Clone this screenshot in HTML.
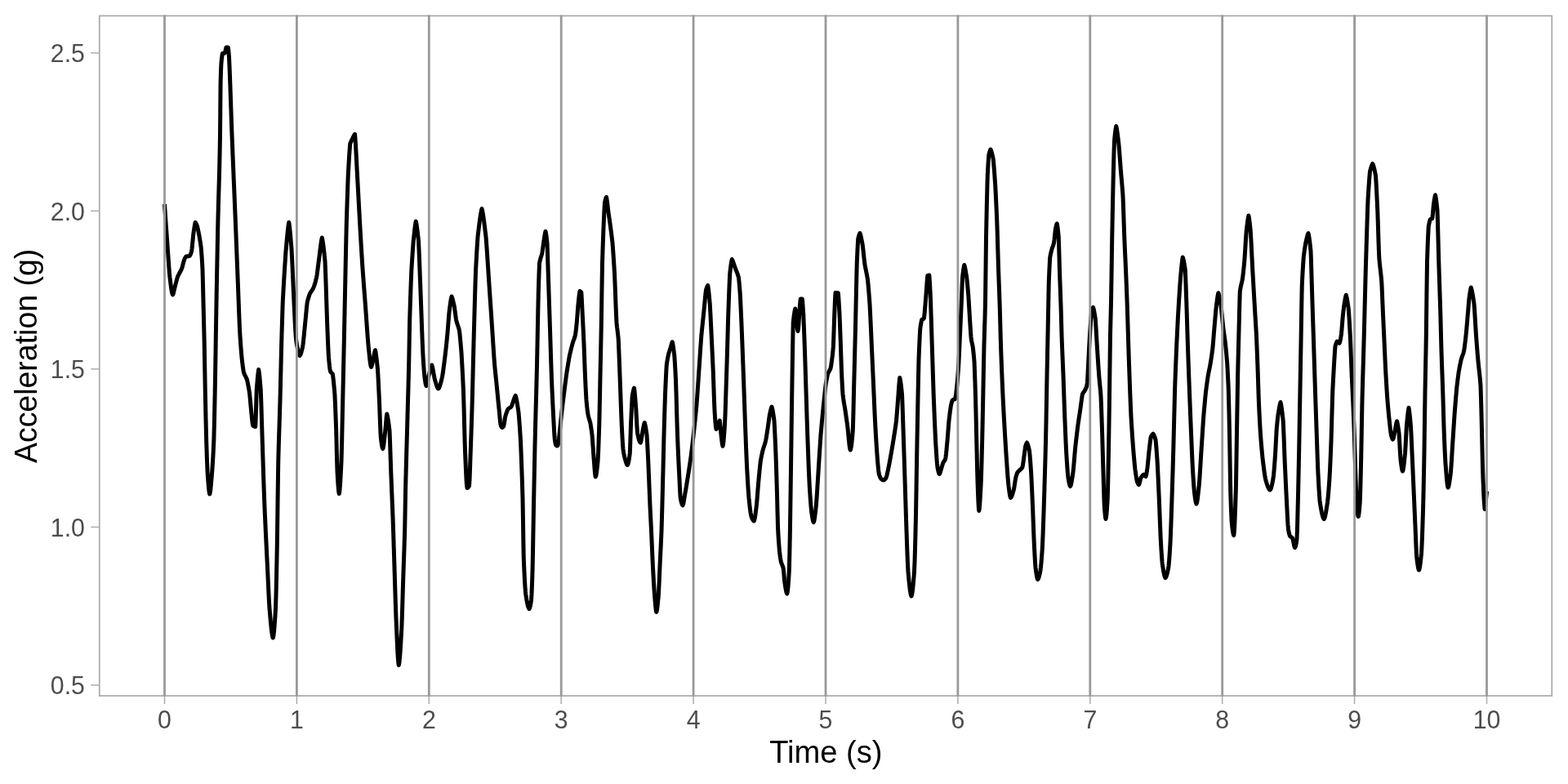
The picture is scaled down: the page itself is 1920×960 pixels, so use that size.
<!DOCTYPE html>
<html lang="en">
<head>
<meta charset="utf-8">
<title>Acceleration over time</title>
<style>
html,body{margin:0;padding:0;background:#fff;}
body{width:1920px;height:960px;overflow:hidden;font-family:"Liberation Sans",Arial,Helvetica,sans-serif;}
svg{display:block;}
.tick{font-size:29.33px;fill:#4d4d4d;}
.title{font-size:36.67px;fill:#000;}
</style>
</head>
<body>
<svg width="1920" height="960" viewBox="0 0 1920 960" font-family="'Liberation Sans',Arial,Helvetica,sans-serif">
<rect x="0" y="0" width="1920" height="960" fill="#ffffff"/>
<path d="M201.50,250.00 L202.00,257.33 L202.50,264.60 L203.00,271.80 L203.50,278.94 L204.00,286.02 L204.50,293.04 L205.00,300.00 L205.50,307.09 L206.00,314.44 L206.50,321.73 L207.00,328.63 L207.50,334.83 L208.00,340.00 L208.50,344.05 L209.00,348.06 L209.50,351.85 L210.00,355.23 L210.50,358.01 L211.00,360.00 L211.50,361.00 L212.00,360.18 L212.50,358.51 L213.00,356.35 L213.50,354.06 L214.00,352.00 L214.50,350.12 L215.00,348.19 L215.50,346.25 L216.00,344.32 L216.50,342.45 L217.00,340.66 L217.50,339.00 L218.00,337.88 L218.50,336.84 L219.00,335.85 L219.50,334.90 L220.00,333.97 L220.50,333.08 L221.00,332.18 L221.50,331.22 L222.00,330.17 L222.50,329.00 L223.00,327.48 L223.50,325.70 L224.00,323.81 L224.50,321.96 L225.00,320.16 L225.50,318.48 L226.00,317.00 L226.50,316.12 L227.00,315.28 L227.50,314.55 L228.00,314.00 L228.50,313.92 L229.00,313.85 L229.50,313.80 L230.00,313.75 L230.50,313.71 L231.00,313.67 L231.50,313.60 L232.00,313.50 L232.50,313.02 L233.00,312.17 L233.50,311.01 L234.00,309.60 L234.50,308.00 L235.00,304.79 L235.50,300.09 L236.00,294.70 L236.50,289.48 L237.00,285.00 L237.50,281.67 L238.00,278.32 L238.50,275.30 L239.00,272.97 L239.20,272.30 L239.50,272.67 L240.00,273.51 L240.50,274.58 L241.00,275.77 L241.50,277.00 L242.00,279.06 L242.50,281.36 L243.00,283.83 L243.50,286.40 L244.00,289.00 L244.50,291.99 L245.00,295.02 L245.50,298.22 L246.00,301.71 L246.30,304.00 L246.50,306.51 L247.00,313.33 L247.50,321.08 L248.00,330.00 L248.50,348.89 L249.00,370.00 L249.50,390.41 L250.00,411.26 L250.20,420.00 L250.50,435.98 L251.00,464.12 L251.30,480.00 L251.50,489.45 L252.00,512.27 L252.50,532.78 L252.70,540.00 L253.00,549.51 L253.50,564.25 L254.00,576.29 L254.20,580.00 L254.50,584.22 L255.00,590.92 L255.50,596.81 L256.00,601.44 L256.50,604.34 L256.75,605.00 L257.00,604.38 L257.50,601.62 L258.00,597.29 L258.50,591.90 L259.00,585.96 L259.50,580.00 L260.00,573.29 L260.50,565.78 L261.00,557.12 L261.50,546.96 L261.80,540.00 L262.00,533.73 L262.50,513.63 L263.00,489.82 L263.20,480.00 L263.50,463.47 L264.00,432.69 L264.50,400.53 L265.00,370.00 L265.50,342.79 L266.00,316.05 L266.50,290.09 L266.80,275.00 L267.00,266.54 L267.50,247.47 L268.00,230.57 L268.50,212.97 L269.00,192.00 L269.50,165.00 L270.00,108.94 L270.10,100.00 L270.50,87.42 L270.90,78.00 L271.00,76.92 L271.50,71.87 L272.00,67.77 L272.40,65.50 L272.50,65.47 L273.00,65.37 L273.50,65.29 L274.00,65.23 L274.50,65.18 L275.00,65.09 L275.30,65.00 L275.50,64.60 L276.00,62.30 L276.50,59.74 L277.00,58.00 L277.50,58.00 L278.00,58.00 L278.50,58.00 L279.00,58.00 L279.30,58.00 L279.50,59.26 L280.00,64.09 L280.50,70.00 L281.00,81.12 L281.50,93.83 L282.00,107.65 L282.50,122.13 L283.00,136.82 L283.50,151.26 L284.00,165.00 L284.50,177.65 L285.00,190.05 L285.50,202.27 L286.00,214.36 L286.50,226.39 L287.00,238.41 L287.50,250.51 L288.00,262.70 L288.50,275.00 L289.00,287.66 L289.50,300.39 L290.00,313.15 L290.50,325.93 L291.00,338.67 L291.25,345.00 L291.50,351.44 L292.00,364.88 L292.50,378.41 L293.00,391.25 L293.50,402.61 L293.75,407.50 L294.00,411.53 L294.50,419.05 L295.00,425.86 L295.50,432.00 L296.00,437.49 L296.25,440.00 L296.50,442.19 L297.00,446.41 L297.50,450.24 L298.00,453.50 L298.50,456.00 L299.00,457.52 L299.50,458.74 L300.00,459.75 L300.50,460.66 L301.00,461.57 L301.50,462.60 L302.00,463.72 L302.50,465.00 L303.00,467.24 L303.50,469.65 L304.00,472.25 L304.50,475.01 L305.00,477.93 L305.50,481.00 L306.00,485.84 L306.50,491.22 L307.00,496.74 L307.50,502.00 L308.00,507.11 L308.50,512.46 L309.00,517.18 L309.50,520.36 L309.70,521.00 L310.00,521.26 L310.50,521.65 L311.00,521.96 L311.50,522.20 L312.00,522.38 L312.50,522.48 L312.70,522.50 L313.00,518.07 L313.50,501.63 L314.00,484.07 L314.25,477.50 L314.50,474.28 L315.00,468.05 L315.50,462.33 L316.00,457.43 L316.50,453.64 L316.70,452.50 L317.00,454.21 L317.50,458.03 L318.00,462.83 L318.50,468.37 L319.00,474.39 L319.25,477.50 L319.50,483.79 L320.00,498.65 L320.50,515.25 L321.00,532.03 L321.25,540.00 L321.50,547.70 L322.00,563.34 L322.50,578.94 L323.00,594.08 L323.50,608.34 L323.75,615.00 L324.00,621.06 L324.50,632.66 L325.00,643.67 L325.50,654.25 L326.00,664.53 L326.50,674.65 L327.00,684.76 L327.50,695.00 L328.00,705.68 L328.50,716.75 L329.00,727.47 L329.50,737.13 L330.00,745.00 L330.50,750.89 L331.00,756.69 L331.50,762.23 L332.00,767.37 L332.50,771.93 L333.00,775.75 L333.50,778.67 L334.00,780.52 L334.25,781.00 L334.50,780.35 L335.00,777.73 L335.50,773.53 L336.00,767.95 L336.50,761.19 L337.00,753.47 L337.50,745.00 L338.00,729.73 L338.50,708.13 L339.00,683.00 L339.25,670.00 L339.50,654.23 L340.00,616.82 L340.50,580.73 L340.75,565.00 L341.00,555.44 L341.50,538.15 L342.00,522.31 L342.50,506.67 L343.00,490.00 L343.50,469.84 L344.00,448.56 L344.50,427.88 L344.70,420.00 L345.00,409.73 L345.50,392.91 L346.00,377.18 L346.25,370.00 L346.50,365.11 L347.00,355.70 L347.50,346.76 L348.00,338.24 L348.50,330.10 L349.00,322.30 L349.50,314.78 L350.00,307.50 L350.50,302.04 L351.00,296.49 L351.50,291.02 L352.00,285.82 L352.50,281.06 L353.00,276.93 L353.50,273.60 L353.75,272.30 L354.00,273.71 L354.50,277.36 L355.00,281.94 L355.50,287.22 L356.00,292.97 L356.50,298.97 L357.00,305.00 L357.50,314.54 L358.00,325.15 L358.50,336.41 L359.00,347.92 L359.50,359.31 L360.00,370.00 L360.50,380.14 L361.00,390.59 L361.50,400.48 L362.00,408.91 L362.50,415.00 L363.00,418.53 L363.50,421.85 L364.00,424.91 L364.50,427.68 L365.00,430.10 L365.50,432.14 L366.00,433.75 L366.50,434.88 L367.00,435.50 L367.50,435.02 L368.00,434.07 L368.50,432.74 L369.00,431.08 L369.50,429.20 L370.00,427.14 L370.50,425.00 L371.00,421.83 L371.50,417.74 L372.00,413.00 L372.50,407.87 L373.00,402.60 L373.50,397.45 L373.75,395.00 L374.00,392.48 L374.50,387.18 L375.00,381.79 L375.50,376.63 L376.00,372.01 L376.25,370.00 L376.50,368.97 L377.00,367.06 L377.50,365.30 L378.00,363.68 L378.50,362.15 L379.00,360.71 L379.25,360.00 L379.50,359.52 L380.00,358.62 L380.50,357.79 L381.00,357.01 L381.50,356.24 L382.00,355.52 L382.50,354.77 L383.00,353.95 L383.50,353.02 L383.75,352.50 L384.00,351.89 L384.50,350.58 L385.00,349.16 L385.50,347.61 L386.00,345.94 L386.50,344.12 L387.00,342.14 L387.50,340.00 L388.00,337.12 L388.50,333.66 L389.00,329.82 L389.50,325.80 L390.00,321.79 L390.50,318.00 L391.00,314.22 L391.50,310.17 L392.00,306.04 L392.50,301.99 L393.00,298.22 L393.50,294.91 L394.00,292.23 L394.30,291.00 L394.50,291.84 L395.00,294.43 L395.50,297.63 L396.00,301.37 L396.50,305.55 L397.00,310.11 L397.50,314.96 L398.00,320.00 L398.50,331.73 L399.00,345.71 L399.50,360.98 L400.00,376.60 L400.50,391.80 L400.80,400.00 L401.00,404.98 L401.50,417.64 L402.00,429.22 L402.50,438.00 L403.00,443.50 L403.50,448.31 L404.00,452.14 L404.50,454.67 L404.60,455.00 L405.00,455.63 L405.50,456.16 L406.00,456.55 L406.50,457.01 L407.00,457.57 L407.30,458.00 L407.50,459.24 L408.00,462.99 L408.50,467.52 L409.00,472.67 L409.50,478.29 L409.90,483.00 L410.00,484.99 L410.50,496.15 L411.00,508.80 L411.50,522.27 L411.60,525.00 L412.00,539.99 L412.50,561.28 L413.00,577.50 L413.50,586.17 L414.00,593.84 L414.50,599.88 L415.00,603.66 L415.25,604.50 L415.50,603.58 L416.00,599.62 L416.50,593.28 L417.00,585.06 L417.50,575.46 L418.00,565.00 L418.50,547.34 L419.00,523.83 L419.50,500.00 L420.00,477.51 L420.50,454.72 L421.00,431.64 L421.25,420.00 L421.50,407.98 L422.00,383.22 L422.50,358.09 L423.00,333.11 L423.50,308.85 L424.00,285.85 L424.25,275.00 L424.50,266.76 L425.00,250.74 L425.50,235.58 L426.00,221.53 L426.25,215.00 L426.50,210.44 L427.00,201.43 L427.50,192.86 L428.00,185.14 L428.50,178.65 L428.75,176.00 L429.00,175.28 L429.50,174.02 L430.00,172.93 L430.50,171.96 L431.00,171.00 L431.50,170.00 L432.00,168.96 L432.50,167.86 L433.00,166.77 L433.50,165.76 L434.00,164.92 L434.50,164.30 L435.00,169.79 L435.50,177.36 L436.00,186.34 L436.50,196.06 L437.00,205.84 L437.50,215.00 L438.00,224.11 L438.50,233.37 L439.00,242.69 L439.50,252.10 L440.00,261.42 L440.50,270.55 L440.75,275.00 L441.00,279.35 L441.50,288.02 L442.00,296.60 L442.50,305.03 L443.00,313.24 L443.50,321.17 L443.75,325.00 L444.00,328.62 L444.50,335.63 L445.00,342.40 L445.50,348.99 L446.00,355.47 L446.50,361.92 L447.00,368.41 L447.50,375.00 L448.00,381.85 L448.50,388.96 L449.00,396.15 L449.50,403.26 L450.00,410.11 L450.50,416.54 L451.00,422.36 L451.25,425.00 L451.50,427.37 L452.00,432.27 L452.50,437.14 L453.00,441.62 L453.50,445.40 L454.00,448.14 L454.50,449.50 L455.00,448.66 L455.50,446.93 L456.00,444.67 L456.50,442.25 L457.00,440.00 L457.50,437.63 L458.00,435.03 L458.50,432.49 L459.00,430.30 L459.50,428.75 L460.00,431.20 L460.50,434.49 L461.00,438.44 L461.50,442.88 L462.00,447.62 L462.50,452.50 L463.00,461.13 L463.50,470.96 L464.00,481.43 L464.50,492.00 L465.00,505.00 L465.50,519.25 L466.00,531.10 L466.25,535.00 L466.50,537.24 L467.00,541.36 L467.50,544.84 L468.00,547.49 L468.50,549.12 L468.75,549.50 L469.00,549.00 L469.50,546.79 L470.00,543.32 L470.50,539.03 L471.00,534.35 L471.50,529.69 L471.75,527.50 L472.00,524.96 L472.50,519.15 L473.00,513.33 L473.50,508.60 L473.75,507.00 L474.00,507.86 L474.50,510.02 L475.00,512.69 L475.50,515.83 L476.00,519.39 L476.50,523.29 L477.00,527.50 L477.50,539.64 L478.00,554.68 L478.50,570.25 L478.75,577.50 L479.00,584.00 L479.50,596.40 L480.00,608.55 L480.50,620.83 L481.00,633.46 L481.25,640.00 L481.50,647.55 L482.00,663.16 L482.50,679.12 L483.00,695.00 L483.50,711.31 L484.00,728.03 L484.50,743.86 L485.00,757.50 L485.50,768.90 L486.00,780.43 L486.50,791.38 L487.00,801.00 L487.50,808.58 L488.00,813.37 L488.25,814.50 L488.50,813.74 L489.00,810.62 L489.50,805.67 L490.00,799.24 L490.50,791.66 L491.00,783.29 L491.50,774.47 L491.75,770.00 L492.00,764.21 L492.50,749.66 L493.00,732.80 L493.50,715.60 L493.75,707.50 L494.00,699.95 L494.50,685.72 L495.00,671.20 L495.50,654.62 L495.75,645.00 L496.00,631.58 L496.50,602.00 L497.00,581.97 L497.50,563.35 L498.00,545.47 L498.50,527.66 L498.90,513.00 L499.00,509.24 L499.50,491.03 L500.00,472.77 L500.50,453.07 L500.80,440.00 L501.00,429.14 L501.50,400.07 L501.60,395.00 L502.00,381.61 L502.50,366.13 L503.00,351.90 L503.50,338.73 L503.75,332.50 L504.00,328.20 L504.50,319.99 L505.00,312.28 L505.50,305.04 L506.00,298.24 L506.25,295.00 L506.50,292.66 L507.00,287.90 L507.50,283.25 L508.00,278.91 L508.50,275.13 L509.00,272.14 L509.25,271.00 L509.50,272.02 L510.00,274.61 L510.50,277.85 L511.00,281.61 L511.50,285.80 L512.00,290.30 L512.50,295.00 L513.00,305.35 L513.50,317.54 L514.00,330.80 L514.50,344.38 L515.00,357.50 L515.50,370.93 L516.00,385.13 L516.50,399.41 L517.00,413.10 L517.50,425.52 L518.00,436.00 L518.50,444.05 L519.00,451.37 L519.50,457.62 L520.00,462.50 L520.50,465.94 L521.00,469.04 L521.50,471.38 L522.00,472.50 L522.50,471.62 L523.00,469.84 L523.50,467.46 L524.00,464.81 L524.50,462.22 L525.00,460.00 L525.50,458.10 L526.00,456.11 L526.50,454.09 L527.00,452.13 L527.50,450.32 L528.00,448.75 L528.50,447.49 L528.75,447.00 L529.00,447.69 L529.50,449.53 L530.00,451.86 L530.50,454.51 L531.00,457.32 L531.50,460.11 L532.00,462.82 L532.50,465.00 L533.00,466.67 L533.50,468.38 L534.00,470.06 L534.50,471.65 L535.00,473.09 L535.50,474.31 L536.00,475.25 L536.50,475.85 L536.75,476.00 L537.00,475.83 L537.50,475.19 L538.00,474.18 L538.50,472.86 L539.00,471.29 L539.50,469.51 L540.00,467.59 L540.50,465.58 L541.00,463.52 L541.25,462.50 L541.50,461.27 L542.00,458.45 L542.50,455.25 L543.00,451.72 L543.50,447.95 L544.00,444.03 L544.50,440.02 L545.00,436.00 L545.50,431.73 L546.00,427.27 L546.50,422.63 L547.00,417.78 L547.50,412.74 L548.00,407.50 L548.50,401.33 L549.00,394.73 L549.50,388.30 L550.00,382.50 L550.50,378.64 L551.00,374.78 L551.50,371.11 L552.00,367.81 L552.50,365.04 L553.00,363.00 L553.50,364.15 L554.00,365.68 L554.50,367.51 L555.00,369.55 L555.50,371.72 L556.00,373.92 L556.25,375.00 L556.50,376.56 L557.00,380.05 L557.50,383.82 L558.00,387.71 L558.50,391.12 L558.75,392.50 L559.00,393.55 L559.50,395.33 L560.00,396.82 L560.50,398.23 L561.00,399.71 L561.50,401.27 L562.00,403.01 L562.50,405.00 L563.00,409.40 L563.50,414.44 L564.00,419.99 L564.50,425.90 L565.00,432.00 L565.50,440.49 L566.00,449.49 L566.50,459.04 L567.00,469.19 L567.50,480.00 L568.00,497.16 L568.50,516.47 L569.00,536.35 L569.50,552.50 L570.00,564.45 L570.50,576.12 L571.00,586.31 L571.50,593.83 L572.00,597.50 L572.50,597.34 L573.00,597.02 L573.50,596.52 L574.00,595.85 L574.50,595.00 L575.00,587.90 L575.50,574.72 L576.00,559.55 L576.25,552.50 L576.50,545.60 L577.00,531.31 L577.50,516.18 L578.00,500.00 L578.50,481.19 L579.00,460.69 L579.50,439.91 L580.00,420.00 L580.50,401.63 L581.00,383.11 L581.50,365.03 L582.00,347.96 L582.50,332.50 L583.00,322.79 L583.50,313.64 L584.00,305.09 L584.50,297.19 L585.00,290.00 L585.50,285.71 L586.00,281.46 L586.50,277.31 L587.00,273.32 L587.50,269.53 L588.00,266.00 L588.50,262.78 L589.00,259.92 L589.50,257.48 L590.00,255.50 L590.50,257.49 L591.00,259.98 L591.50,262.90 L592.00,266.18 L592.50,269.77 L593.00,273.59 L593.50,277.59 L594.00,281.70 L594.50,285.86 L595.00,290.00 L595.50,296.37 L596.00,303.29 L596.50,310.62 L597.00,318.22 L597.50,325.96 L598.00,333.69 L598.50,341.29 L598.75,345.00 L599.00,348.67 L599.50,355.99 L600.00,363.31 L600.50,370.63 L601.00,377.95 L601.50,385.29 L602.00,392.63 L602.50,400.00 L603.00,407.63 L603.50,415.52 L604.00,423.43 L604.50,431.13 L605.00,438.40 L605.50,445.00 L606.00,450.52 L606.50,455.57 L607.00,460.37 L607.50,465.11 L608.00,470.00 L608.50,475.07 L609.00,480.17 L609.50,485.28 L610.00,490.39 L610.50,495.47 L611.00,500.50 L611.25,503.00 L611.50,505.63 L612.00,511.34 L612.50,516.56 L613.00,520.00 L613.50,521.43 L614.00,522.57 L614.50,523.31 L614.80,523.50 L615.00,523.46 L615.50,523.18 L616.00,522.73 L616.50,522.13 L616.60,522.00 L617.00,520.61 L617.50,517.72 L618.00,514.30 L618.50,511.27 L618.75,510.00 L619.00,509.19 L619.50,507.59 L620.00,506.07 L620.50,504.62 L621.00,503.29 L621.50,502.07 L622.00,501.00 L622.50,500.55 L623.00,500.16 L623.50,499.81 L624.00,499.48 L624.50,499.18 L625.00,498.86 L625.50,498.48 L626.00,498.00 L626.50,497.12 L627.00,495.89 L627.50,494.41 L628.00,492.80 L628.50,491.26 L629.00,489.74 L629.50,488.28 L630.00,486.94 L630.50,485.79 L631.00,484.86 L631.25,484.50 L631.50,485.25 L632.00,487.13 L632.50,489.45 L633.00,492.13 L633.50,495.11 L634.00,498.29 L634.50,501.61 L635.00,505.00 L635.50,510.87 L636.00,517.38 L636.50,524.45 L637.00,532.02 L637.50,540.00 L638.00,552.06 L638.50,564.97 L639.00,578.85 L639.50,593.82 L640.00,610.00 L640.50,639.08 L641.00,671.28 L641.25,682.50 L641.50,689.13 L642.00,700.93 L642.50,710.83 L643.00,718.86 L643.50,725.07 L643.75,727.50 L644.00,729.18 L644.50,732.37 L645.00,735.32 L645.50,737.99 L646.00,740.32 L646.50,742.28 L647.00,743.83 L647.50,744.92 L648.00,745.50 L648.50,744.77 L649.00,743.27 L649.50,741.08 L650.00,738.30 L650.50,735.00 L651.00,727.18 L651.50,714.88 L652.00,700.00 L652.50,677.11 L653.00,648.31 L653.50,620.00 L654.00,594.51 L654.50,569.29 L655.00,545.00 L655.50,524.77 L656.00,505.46 L656.50,486.65 L657.00,467.59 L657.50,447.00 L658.00,422.24 L658.50,396.23 L659.00,371.34 L659.25,360.00 L659.50,351.50 L660.00,335.08 L660.50,322.50 L661.00,319.93 L661.50,317.86 L662.00,316.11 L662.50,314.52 L663.00,312.89 L663.50,311.12 L663.75,310.00 L664.00,308.57 L664.50,305.23 L665.00,301.50 L665.50,297.72 L666.00,294.17 L666.25,292.50 L666.50,291.03 L667.00,287.97 L667.50,285.18 L668.00,283.25 L668.50,285.58 L669.00,288.86 L669.50,292.91 L670.00,297.50 L670.50,310.88 L671.00,327.13 L671.25,335.00 L671.50,342.54 L672.00,357.62 L672.50,372.72 L673.00,387.86 L673.40,400.00 L673.50,403.09 L674.00,419.08 L674.50,435.32 L675.00,450.92 L675.50,465.00 L676.00,476.75 L676.50,487.60 L677.00,497.77 L677.50,507.50 L678.00,517.16 L678.50,526.65 L679.00,534.58 L679.30,538.00 L679.50,539.47 L680.00,542.61 L680.50,544.50 L681.00,545.17 L681.50,545.66 L682.00,545.95 L682.20,546.00 L682.50,545.80 L683.00,545.04 L683.50,543.85 L683.80,543.00 L684.00,541.91 L684.50,537.44 L685.00,532.01 L685.20,530.00 L685.50,527.10 L686.00,522.15 L686.50,517.20 L687.00,512.29 L687.50,507.50 L688.00,503.20 L688.50,498.97 L689.00,494.81 L689.50,490.68 L690.00,486.59 L690.50,482.50 L691.00,478.57 L691.50,474.63 L692.00,470.72 L692.50,466.85 L693.00,463.04 L693.50,459.32 L693.75,457.50 L694.00,455.91 L694.50,452.75 L695.00,449.62 L695.50,446.55 L696.00,443.54 L696.50,440.60 L697.00,437.75 L697.50,435.00 L698.00,432.83 L698.50,430.73 L699.00,428.69 L699.50,426.69 L700.00,424.74 L700.50,422.82 L701.00,420.94 L701.25,420.00 L701.50,419.20 L702.00,417.73 L702.50,416.42 L703.00,415.11 L703.50,413.69 L704.00,412.03 L704.50,410.00 L705.00,406.69 L705.50,402.38 L706.00,397.51 L706.25,395.00 L706.50,392.11 L707.00,385.43 L707.50,378.68 L708.00,372.50 L708.50,367.86 L709.00,363.26 L709.50,359.29 L710.00,356.50 L710.50,356.76 L711.00,357.14 L711.50,357.64 L711.80,358.00 L712.00,360.50 L712.50,369.74 L713.00,380.00 L713.50,389.93 L714.00,399.95 L714.50,410.25 L715.00,421.00 L715.50,434.52 L716.00,448.62 L716.25,455.00 L716.50,460.71 L717.00,471.88 L717.50,481.96 L718.00,490.00 L718.50,495.49 L719.00,500.21 L719.50,504.21 L720.00,507.50 L720.50,509.79 L721.00,511.64 L721.50,513.27 L722.00,514.92 L722.50,516.72 L723.00,518.75 L723.50,521.81 L724.00,525.10 L724.50,528.65 L725.00,532.50 L725.50,538.81 L726.00,545.90 L726.50,553.18 L727.00,560.00 L727.50,566.42 L728.00,573.14 L728.50,579.02 L729.00,582.91 L729.25,583.75 L729.50,583.32 L730.00,581.50 L730.50,578.55 L731.00,574.69 L731.50,570.10 L732.00,565.00 L732.50,556.00 L733.00,543.28 L733.50,528.11 L733.75,520.00 L734.00,509.90 L734.50,485.42 L735.00,460.00 L735.50,436.62 L736.00,412.83 L736.25,400.00 L736.50,384.82 L737.00,351.99 L737.50,322.50 L738.00,306.48 L738.50,292.20 L739.00,278.96 L739.25,272.50 L739.50,267.06 L740.00,256.38 L740.50,248.00 L741.00,245.77 L741.50,243.86 L742.00,242.34 L742.50,241.25 L743.00,243.81 L743.50,247.43 L744.00,251.65 L744.50,255.99 L745.00,260.00 L745.50,263.53 L746.00,266.99 L746.50,270.44 L747.00,273.93 L747.50,277.50 L748.00,281.32 L748.50,285.11 L749.00,289.00 L749.50,293.09 L750.00,297.50 L750.50,304.13 L751.00,311.26 L751.50,318.83 L752.00,326.76 L752.50,335.00 L753.00,346.55 L753.50,359.54 L754.00,373.22 L754.50,385.60 L755.00,395.00 L755.50,400.22 L756.00,404.16 L756.50,408.21 L757.00,412.85 L757.20,415.00 L757.50,421.29 L758.00,433.51 L758.50,446.82 L759.00,460.00 L759.50,473.54 L760.00,487.69 L760.50,501.57 L761.00,514.32 L761.25,520.00 L761.50,525.08 L762.00,535.02 L762.50,543.72 L763.00,550.00 L763.50,553.43 L764.00,556.25 L764.50,558.60 L765.00,560.64 L765.50,562.50 L766.00,564.17 L766.50,565.84 L767.00,567.35 L767.50,568.56 L768.00,569.33 L768.25,569.50 L768.50,569.22 L769.00,568.12 L769.50,566.31 L770.00,563.84 L770.50,560.74 L771.00,557.05 L771.25,555.00 L771.50,550.42 L772.00,535.24 L772.50,520.00 L773.00,508.91 L773.50,498.14 L774.00,488.80 L774.25,485.00 L774.50,483.54 L775.00,480.79 L775.50,478.38 L776.00,476.42 L776.50,475.00 L777.00,478.77 L777.50,484.09 L778.00,490.33 L778.50,496.84 L778.75,500.00 L779.00,504.13 L779.50,513.88 L780.00,523.56 L780.50,530.00 L781.00,532.61 L781.50,534.96 L782.00,537.01 L782.50,538.75 L783.00,540.14 L783.50,541.18 L784.00,541.83 L784.25,542.00 L784.50,541.60 L785.00,539.76 L785.50,536.95 L786.00,533.65 L786.50,530.34 L787.00,527.50 L787.50,525.03 L788.00,522.45 L788.50,520.06 L789.00,518.17 L789.25,517.50 L789.50,518.27 L790.00,520.26 L790.50,522.79 L791.00,525.74 L791.50,529.01 L792.00,532.50 L792.50,540.41 L793.00,549.88 L793.50,559.99 L793.75,565.00 L794.00,570.80 L794.50,582.97 L795.00,595.53 L795.50,608.19 L796.00,620.00 L796.50,630.24 L797.00,639.98 L797.50,650.00 L798.00,661.20 L798.50,672.86 L799.00,684.38 L799.50,695.00 L800.00,704.45 L800.50,713.43 L801.00,721.47 L801.25,725.00 L801.50,728.13 L802.00,734.56 L802.50,740.62 L803.00,745.60 L803.50,748.79 L803.75,749.50 L804.00,748.97 L804.50,746.60 L805.00,742.83 L805.50,738.08 L806.00,732.76 L806.25,730.00 L806.50,726.26 L807.00,716.48 L807.50,704.90 L808.00,693.05 L808.25,687.50 L808.50,682.31 L809.00,672.35 L809.50,661.98 L810.00,650.00 L810.50,633.67 L811.00,614.67 L811.50,595.00 L812.00,574.23 L812.50,552.97 L813.00,532.50 L813.50,514.98 L814.00,498.08 L814.50,482.50 L815.00,471.14 L815.50,460.39 L816.00,450.98 L816.25,447.00 L816.50,445.20 L817.00,441.96 L817.50,439.10 L818.00,436.49 L818.50,434.00 L819.00,432.25 L819.50,430.63 L820.00,429.09 L820.50,427.56 L821.00,426.00 L821.50,424.25 L822.00,422.38 L822.50,420.63 L823.00,419.24 L823.25,418.75 L823.50,419.68 L824.00,422.18 L824.50,425.36 L825.00,429.03 L825.50,432.98 L825.75,435.00 L826.00,438.52 L826.50,446.44 L827.00,455.36 L827.50,465.00 L828.00,480.62 L828.50,498.21 L829.00,516.37 L829.50,532.50 L830.00,544.98 L830.50,556.43 L831.00,567.14 L831.50,577.42 L831.75,582.50 L832.00,587.69 L832.50,598.50 L833.00,607.31 L833.25,610.00 L833.50,611.32 L834.00,613.68 L834.50,615.65 L835.00,617.18 L835.50,618.23 L836.00,618.75 L836.50,617.70 L837.00,615.56 L837.50,612.70 L838.00,609.53 L838.50,606.41 L838.75,605.00 L839.00,603.61 L839.50,600.77 L840.00,597.84 L840.50,594.86 L841.00,591.82 L841.50,588.74 L842.00,585.63 L842.50,582.50 L843.00,579.32 L843.50,576.14 L844.00,572.93 L844.50,569.66 L845.00,566.33 L845.50,562.89 L846.00,559.33 L846.25,557.50 L846.50,555.55 L847.00,551.53 L847.50,547.35 L848.00,543.05 L848.50,538.64 L849.00,534.15 L849.50,529.59 L850.00,525.00 L850.50,520.31 L851.00,515.60 L851.50,510.79 L852.00,505.80 L852.50,500.57 L853.00,495.00 L853.50,488.59 L854.00,481.65 L854.50,474.35 L855.00,466.86 L855.50,459.35 L856.00,452.00 L856.50,444.64 L857.00,437.16 L857.50,429.69 L858.00,422.37 L858.50,415.35 L858.75,412.00 L859.00,409.33 L859.50,404.19 L860.00,399.24 L860.50,394.42 L861.00,389.66 L861.50,384.87 L862.00,380.00 L862.50,374.77 L863.00,369.28 L863.50,363.91 L864.00,359.02 L864.50,355.00 L865.00,353.45 L865.50,352.03 L866.00,350.81 L866.50,349.85 L866.75,349.50 L867.00,350.83 L867.50,354.43 L868.00,359.01 L868.50,364.23 L869.00,369.74 L869.25,372.50 L869.50,376.75 L870.00,386.21 L870.50,396.45 L871.00,406.89 L871.25,412.00 L871.50,417.25 L872.00,427.77 L872.50,438.42 L873.00,449.37 L873.25,455.00 L873.50,461.67 L874.00,476.41 L874.50,491.01 L875.00,502.50 L875.50,510.31 L876.00,517.46 L876.50,522.88 L877.00,525.50 L877.50,525.08 L878.00,524.22 L878.50,523.13 L879.00,522.00 L879.50,520.44 L880.00,518.64 L880.50,516.89 L881.00,515.48 L881.25,515.00 L881.50,516.61 L882.00,521.44 L882.50,527.22 L883.00,532.50 L883.50,536.80 L884.00,541.11 L884.50,544.56 L885.00,546.25 L885.50,544.22 L886.00,540.04 L886.50,534.26 L887.00,527.40 L887.50,520.00 L888.00,508.64 L888.50,493.78 L889.00,477.74 L889.25,470.00 L889.50,462.30 L890.00,446.46 L890.50,430.00 L891.00,411.83 L891.50,393.56 L891.75,385.00 L892.00,378.09 L892.50,364.31 L893.00,351.29 L893.50,339.86 L893.75,335.00 L894.00,332.75 L894.50,328.43 L895.00,324.50 L895.50,321.14 L896.00,318.49 L896.25,317.50 L896.50,317.88 L897.00,318.86 L897.50,320.09 L898.00,321.49 L898.50,323.01 L899.00,324.56 L899.50,326.08 L900.00,327.50 L900.50,328.82 L901.00,330.08 L901.50,331.29 L902.00,332.51 L902.50,333.77 L903.00,335.11 L903.50,336.57 L904.00,338.19 L904.50,340.00 L905.00,344.71 L905.50,350.40 L906.00,356.72 L906.25,360.00 L906.50,364.73 L907.00,375.09 L907.50,386.19 L908.00,397.50 L908.50,410.12 L909.00,423.11 L909.50,436.34 L910.00,449.67 L910.20,455.00 L910.50,463.38 L911.00,477.58 L911.50,491.99 L912.00,506.25 L912.50,520.00 L913.00,533.28 L913.50,546.45 L914.00,558.89 L914.50,570.00 L915.00,579.38 L915.50,588.28 L916.00,596.49 L916.50,603.79 L917.00,610.00 L917.50,614.86 L918.00,619.46 L918.50,623.65 L919.00,627.32 L919.50,630.31 L920.00,632.50 L920.50,633.77 L921.00,634.94 L921.50,635.98 L922.00,636.84 L922.50,637.49 L923.00,637.90 L923.25,638.00 L923.50,637.61 L924.00,635.90 L924.50,633.21 L925.00,629.80 L925.50,625.96 L926.00,621.97 L926.25,620.00 L926.50,617.65 L927.00,612.08 L927.50,605.75 L928.00,599.18 L928.50,592.93 L928.75,590.00 L929.00,587.37 L929.50,582.07 L930.00,576.84 L930.50,571.82 L931.00,567.15 L931.25,565.00 L931.50,563.57 L932.00,560.87 L932.50,558.34 L933.00,555.94 L933.50,553.64 L933.75,552.50 L934.00,551.60 L934.50,549.89 L935.00,548.28 L935.50,546.75 L936.00,545.25 L936.50,543.69 L937.00,541.96 L937.50,540.00 L938.00,537.48 L938.50,534.59 L939.00,531.47 L939.50,528.24 L940.00,525.00 L940.50,521.51 L941.00,517.85 L941.50,514.19 L942.00,510.69 L942.50,507.50 L943.00,505.27 L943.50,503.04 L944.00,500.98 L944.50,499.25 L945.00,498.00 L945.50,499.72 L946.00,502.00 L946.50,504.76 L947.00,507.89 L947.50,511.34 L948.00,515.00 L948.50,523.74 L949.00,534.20 L949.50,545.69 L950.00,557.50 L950.50,572.45 L951.00,588.39 L951.50,605.00 L952.00,626.34 L952.50,645.00 L953.00,654.84 L953.50,662.84 L954.00,669.43 L954.50,675.00 L955.00,679.35 L955.50,683.12 L956.00,686.22 L956.25,687.50 L956.50,688.44 L957.00,689.95 L957.50,691.14 L958.00,692.39 L958.50,693.74 L959.00,695.32 L959.25,696.25 L959.50,698.51 L960.00,704.18 L960.50,710.19 L960.75,712.50 L961.00,714.17 L961.50,717.47 L962.00,720.57 L962.50,723.26 L963.00,725.36 L963.50,726.69 L963.75,727.00 L964.00,726.31 L964.50,723.34 L965.00,718.49 L965.50,712.04 L966.00,704.28 L966.25,700.00 L966.50,692.63 L967.00,670.37 L967.30,655.00 L967.50,643.19 L968.00,608.74 L968.40,580.00 L968.50,572.92 L969.00,536.46 L969.50,499.95 L970.00,465.00 L970.50,433.84 L971.00,405.45 L971.25,395.00 L971.50,392.57 L972.00,388.17 L972.50,384.42 L973.00,381.34 L973.50,378.94 L973.75,378.00 L974.00,379.29 L974.50,383.03 L975.00,387.83 L975.50,393.25 L976.00,398.95 L976.50,403.38 L977.00,405.50 L977.50,402.52 L978.00,396.32 L978.50,388.30 L979.00,380.56 L979.50,373.71 L980.00,368.26 L980.30,366.00 L980.50,366.00 L981.00,366.00 L981.50,366.00 L982.00,366.00 L982.30,366.00 L982.50,367.60 L983.00,373.59 L983.50,381.14 L983.75,385.00 L984.00,390.60 L984.50,402.97 L985.00,416.33 L985.50,430.00 L986.00,445.72 L986.50,461.96 L986.75,470.00 L987.00,477.96 L987.50,494.04 L988.00,509.96 L988.50,525.24 L988.75,532.50 L989.00,539.40 L989.50,553.21 L990.00,566.62 L990.50,579.10 L991.00,590.16 L991.25,595.00 L991.50,599.07 L992.00,606.83 L992.50,613.93 L993.00,620.17 L993.50,625.36 L993.75,627.50 L994.00,629.17 L994.50,632.43 L995.00,635.36 L995.50,637.70 L996.00,639.17 L996.25,639.50 L996.50,639.08 L997.00,637.28 L997.50,634.42 L998.00,630.77 L998.50,626.61 L999.00,622.21 L999.25,620.00 L999.50,617.26 L1000.00,610.59 L1000.50,602.84 L1001.00,594.59 L1001.50,586.39 L1001.75,582.50 L1002.00,578.65 L1002.50,570.83 L1003.00,562.92 L1003.50,555.03 L1004.00,547.26 L1004.50,539.72 L1005.00,532.50 L1005.50,526.73 L1006.00,521.16 L1006.50,515.74 L1007.00,510.44 L1007.50,505.20 L1008.00,500.00 L1008.50,495.16 L1009.00,490.29 L1009.50,485.46 L1010.00,480.76 L1010.50,476.25 L1011.00,472.00 L1011.25,470.00 L1011.50,468.58 L1012.00,465.83 L1012.50,463.20 L1013.00,460.76 L1013.50,458.52 L1013.75,457.50 L1014.00,456.91 L1014.50,455.88 L1015.00,454.96 L1015.50,454.15 L1016.00,453.32 L1016.50,452.31 L1017.00,451.00 L1017.50,448.64 L1018.00,445.48 L1018.50,441.87 L1018.75,440.00 L1019.00,438.02 L1019.50,433.84 L1020.00,428.77 L1020.30,425.00 L1020.50,421.07 L1021.00,407.24 L1021.50,391.82 L1021.75,385.00 L1022.00,379.06 L1022.50,367.03 L1023.00,358.50 L1023.50,358.52 L1024.00,358.54 L1024.50,358.56 L1025.00,358.59 L1025.50,358.63 L1026.00,358.67 L1026.30,358.70 L1026.50,360.56 L1027.00,367.31 L1027.50,375.94 L1028.00,385.00 L1028.50,397.46 L1029.00,411.09 L1029.50,425.00 L1030.00,440.55 L1030.50,455.00 L1031.00,465.83 L1031.50,475.30 L1032.00,482.50 L1032.50,486.90 L1033.00,490.51 L1033.50,493.61 L1034.00,496.46 L1034.50,499.33 L1035.00,502.50 L1035.50,505.95 L1036.00,509.41 L1036.50,512.88 L1037.00,516.41 L1037.50,520.00 L1038.00,524.31 L1038.50,529.31 L1039.00,534.60 L1039.50,539.76 L1040.00,544.40 L1040.50,548.10 L1041.00,550.45 L1041.25,551.00 L1041.50,550.54 L1042.00,548.68 L1042.50,545.64 L1043.00,541.56 L1043.50,536.54 L1044.00,530.69 L1044.25,527.50 L1044.50,521.53 L1045.00,502.75 L1045.50,480.42 L1045.75,470.00 L1046.00,460.19 L1046.50,440.50 L1047.00,420.52 L1047.50,400.00 L1048.00,377.28 L1048.50,353.84 L1049.00,332.05 L1049.25,322.50 L1049.50,316.62 L1050.00,305.47 L1050.50,296.13 L1050.75,292.50 L1051.00,291.43 L1051.50,289.48 L1052.00,287.82 L1052.50,286.47 L1053.00,285.50 L1053.50,286.88 L1054.00,288.72 L1054.50,290.93 L1055.00,293.39 L1055.50,296.00 L1056.00,298.68 L1056.25,300.00 L1056.50,301.98 L1057.00,306.38 L1057.50,311.13 L1058.00,316.04 L1058.50,320.57 L1058.75,322.50 L1059.00,324.08 L1059.50,326.88 L1060.00,329.34 L1060.50,331.71 L1061.00,334.16 L1061.50,336.71 L1062.00,339.45 L1062.50,342.50 L1063.00,347.65 L1063.50,353.29 L1064.00,359.34 L1064.50,365.77 L1065.00,372.50 L1065.50,382.32 L1066.00,393.02 L1066.50,404.19 L1067.00,415.41 L1067.30,422.00 L1067.50,426.39 L1068.00,437.40 L1068.50,448.44 L1069.00,459.49 L1069.25,465.00 L1069.50,470.57 L1070.00,481.97 L1070.50,493.43 L1071.00,504.59 L1071.50,515.10 L1071.75,520.00 L1072.00,524.51 L1072.50,533.30 L1073.00,541.68 L1073.50,549.52 L1074.00,556.70 L1074.25,560.00 L1074.50,563.00 L1075.00,568.95 L1075.50,574.34 L1076.00,578.54 L1076.25,580.00 L1076.50,580.90 L1077.00,582.50 L1077.50,583.86 L1078.00,584.98 L1078.50,585.85 L1079.00,586.50 L1079.50,586.88 L1080.00,587.22 L1080.50,587.52 L1081.00,587.75 L1081.50,587.92 L1082.00,588.00 L1082.50,587.83 L1083.00,587.50 L1083.50,587.02 L1084.00,586.43 L1084.50,585.74 L1085.00,585.00 L1085.50,583.68 L1086.00,581.83 L1086.50,579.65 L1087.00,577.30 L1087.50,575.00 L1088.00,572.61 L1088.50,570.09 L1089.00,567.47 L1089.50,564.76 L1090.00,562.00 L1090.50,559.21 L1091.00,556.40 L1091.25,555.00 L1091.50,553.57 L1092.00,550.69 L1092.50,547.78 L1093.00,544.83 L1093.50,541.84 L1094.00,538.78 L1094.50,535.68 L1095.00,532.50 L1095.50,529.28 L1096.00,526.08 L1096.50,522.74 L1097.00,519.10 L1097.50,515.00 L1098.00,509.56 L1098.50,503.20 L1099.00,496.49 L1099.50,490.00 L1100.00,483.34 L1100.50,476.25 L1101.00,469.62 L1101.50,464.35 L1101.75,462.50 L1102.00,463.52 L1102.50,466.15 L1103.00,469.49 L1103.50,473.40 L1104.00,477.78 L1104.50,482.50 L1105.00,494.63 L1105.50,509.42 L1106.00,525.00 L1106.25,532.50 L1106.50,540.14 L1107.00,555.61 L1107.50,571.23 L1108.00,586.88 L1108.10,590.00 L1108.50,602.78 L1109.00,619.06 L1109.50,635.03 L1110.00,650.00 L1110.50,664.22 L1111.00,678.33 L1111.50,690.78 L1112.00,700.00 L1112.50,705.65 L1113.00,710.98 L1113.50,715.87 L1114.00,720.22 L1114.50,723.91 L1115.00,726.85 L1115.50,728.91 L1116.00,730.00 L1116.50,728.70 L1117.00,726.18 L1117.50,722.58 L1118.00,718.03 L1118.50,712.65 L1119.00,706.60 L1119.50,700.00 L1120.00,688.29 L1120.50,671.78 L1121.00,652.32 L1121.30,640.00 L1121.50,630.29 L1122.00,601.48 L1122.50,569.85 L1123.00,540.00 L1123.50,513.46 L1124.00,486.95 L1124.50,461.95 L1125.00,440.00 L1125.50,427.59 L1126.00,416.27 L1126.50,406.58 L1126.75,402.50 L1127.00,400.74 L1127.50,397.50 L1128.00,394.69 L1128.50,392.41 L1128.75,391.50 L1129.00,391.30 L1129.50,391.00 L1130.00,390.76 L1130.50,390.56 L1131.00,390.24 L1131.25,390.00 L1131.50,388.97 L1132.00,384.93 L1132.50,379.20 L1133.00,372.95 L1133.25,370.00 L1133.50,366.90 L1134.00,360.12 L1134.50,353.31 L1134.60,352.00 L1135.00,346.60 L1135.50,340.13 L1135.80,337.50 L1136.00,337.42 L1136.50,337.26 L1137.00,337.14 L1137.50,337.04 L1137.80,337.00 L1138.00,339.03 L1138.50,346.59 L1139.00,356.15 L1139.30,362.00 L1139.50,367.43 L1140.00,382.33 L1140.50,398.36 L1141.00,414.60 L1141.25,422.50 L1141.50,430.40 L1142.00,446.60 L1142.50,462.69 L1143.00,477.93 L1143.25,485.00 L1143.50,491.50 L1144.00,504.22 L1144.50,516.37 L1145.00,527.67 L1145.50,537.89 L1145.75,542.50 L1146.00,546.58 L1146.50,554.58 L1147.00,561.92 L1147.50,568.07 L1148.00,572.50 L1148.50,575.07 L1149.00,577.34 L1149.50,579.13 L1150.00,580.25 L1150.25,580.50 L1150.50,580.29 L1151.00,579.31 L1151.50,577.81 L1152.00,576.02 L1152.50,574.17 L1153.00,572.50 L1153.50,570.90 L1154.00,569.25 L1154.50,567.67 L1155.00,566.25 L1155.50,565.45 L1156.00,564.80 L1156.50,564.21 L1157.00,563.50 L1157.50,562.50 L1158.00,559.85 L1158.50,555.78 L1159.00,550.78 L1159.50,545.35 L1160.00,540.00 L1160.50,533.99 L1161.00,527.39 L1161.50,520.94 L1162.00,515.00 L1162.50,510.71 L1163.00,506.60 L1163.50,502.72 L1164.00,499.15 L1164.25,497.50 L1164.50,496.40 L1165.00,494.25 L1165.50,492.28 L1166.00,490.65 L1166.25,490.00 L1166.50,489.84 L1167.00,489.59 L1167.50,489.39 L1168.00,489.23 L1168.50,489.07 L1169.00,488.85 L1169.50,488.50 L1170.00,486.68 L1170.50,483.43 L1171.00,479.28 L1171.50,474.74 L1171.75,472.50 L1172.00,470.00 L1172.50,464.47 L1173.00,458.22 L1173.50,451.25 L1173.75,447.50 L1174.00,443.02 L1174.50,432.66 L1175.00,421.31 L1175.50,410.00 L1176.00,398.99 L1176.50,387.90 L1177.00,376.61 L1177.50,365.00 L1178.00,351.74 L1178.50,340.00 L1179.00,335.54 L1179.50,331.53 L1180.00,328.12 L1180.50,325.48 L1180.75,324.50 L1181.00,325.23 L1181.50,327.15 L1182.00,329.56 L1182.50,332.34 L1183.00,335.35 L1183.50,338.45 L1183.75,340.00 L1184.00,342.30 L1184.50,347.30 L1185.00,352.72 L1185.50,358.46 L1185.80,362.00 L1186.00,365.04 L1186.50,373.22 L1187.00,381.73 L1187.50,390.00 L1188.00,397.95 L1188.50,405.86 L1189.00,412.52 L1189.25,415.00 L1189.50,416.61 L1190.00,419.11 L1190.50,421.22 L1191.00,423.62 L1191.25,425.00 L1191.50,427.12 L1192.00,431.64 L1192.50,436.70 L1193.00,442.50 L1193.50,454.86 L1194.00,469.45 L1194.50,485.00 L1195.00,505.40 L1195.50,527.12 L1195.80,540.00 L1196.00,548.70 L1196.50,571.19 L1197.00,590.00 L1197.50,603.55 L1198.00,615.69 L1198.50,623.79 L1198.75,625.50 L1199.00,624.53 L1199.50,620.21 L1200.00,613.35 L1200.50,604.71 L1201.00,595.01 L1201.25,590.00 L1201.50,583.37 L1202.00,566.38 L1202.50,546.22 L1203.00,525.00 L1203.50,500.57 L1204.00,473.54 L1204.50,447.11 L1205.00,422.50 L1205.50,405.24 L1206.00,389.75 L1206.50,370.00 L1207.00,330.79 L1207.50,290.00 L1208.00,265.74 L1208.50,243.47 L1209.00,223.74 L1209.25,215.00 L1209.50,210.03 L1210.00,200.79 L1210.50,193.07 L1210.75,190.00 L1211.00,188.95 L1211.50,187.01 L1212.00,185.34 L1212.50,183.98 L1213.00,183.00 L1213.50,184.11 L1214.00,185.57 L1214.50,187.33 L1215.00,189.32 L1215.50,191.50 L1216.00,193.81 L1216.25,195.00 L1216.50,197.49 L1217.00,203.19 L1217.50,209.63 L1218.00,216.59 L1218.50,223.84 L1218.75,227.50 L1219.00,232.27 L1219.50,242.30 L1220.00,252.94 L1220.50,264.17 L1220.75,270.00 L1221.00,277.62 L1221.50,294.04 L1222.00,311.06 L1222.50,327.50 L1223.00,341.60 L1223.50,355.16 L1224.00,369.13 L1224.20,375.00 L1224.50,385.71 L1225.00,404.77 L1225.50,422.50 L1226.00,436.69 L1226.50,449.87 L1227.00,462.21 L1227.50,473.86 L1228.00,485.00 L1228.50,495.09 L1229.00,504.57 L1229.50,513.64 L1230.00,522.50 L1230.50,531.09 L1231.00,539.50 L1231.50,547.66 L1232.00,555.49 L1232.30,560.00 L1232.50,562.87 L1233.00,570.14 L1233.50,577.29 L1234.00,584.02 L1234.50,590.02 L1235.00,595.00 L1235.50,598.89 L1236.00,602.65 L1236.50,605.92 L1237.00,608.33 L1237.50,609.50 L1238.00,609.10 L1238.50,608.31 L1239.00,607.21 L1239.50,605.85 L1240.00,604.30 L1240.50,602.62 L1241.00,600.88 L1241.25,600.00 L1241.50,598.87 L1242.00,595.97 L1242.50,592.61 L1243.00,589.33 L1243.50,586.33 L1243.75,585.00 L1244.00,584.11 L1244.50,582.39 L1245.00,580.80 L1245.50,579.38 L1245.75,578.75 L1246.00,578.42 L1246.50,577.81 L1247.00,577.27 L1247.50,576.76 L1248.00,576.26 L1248.50,575.76 L1248.75,575.50 L1249.00,575.26 L1249.50,574.83 L1250.00,574.44 L1250.50,574.02 L1251.00,573.53 L1251.50,572.89 L1251.75,572.50 L1252.00,571.70 L1252.50,569.15 L1253.00,565.77 L1253.50,562.05 L1254.00,558.50 L1254.50,554.80 L1255.00,550.95 L1255.50,547.46 L1255.75,546.00 L1256.00,545.29 L1256.50,543.93 L1257.00,542.79 L1257.50,542.00 L1258.00,543.01 L1258.50,544.36 L1259.00,545.98 L1259.50,547.83 L1260.00,549.85 L1260.50,552.00 L1261.00,557.12 L1261.50,563.20 L1262.00,569.95 L1262.50,577.10 L1262.70,580.00 L1263.00,586.02 L1263.50,596.89 L1264.00,608.38 L1264.50,620.00 L1265.00,632.90 L1265.50,646.49 L1266.00,659.33 L1266.25,665.00 L1266.50,670.05 L1267.00,679.94 L1267.50,688.62 L1268.00,695.00 L1268.50,698.86 L1269.00,702.38 L1269.50,705.40 L1270.00,707.72 L1270.50,709.16 L1270.75,709.50 L1271.00,709.30 L1271.50,708.48 L1272.00,707.16 L1272.50,705.44 L1273.00,703.41 L1273.50,701.17 L1273.75,700.00 L1274.00,698.37 L1274.50,694.26 L1275.00,689.11 L1275.50,683.05 L1276.00,676.19 L1276.25,672.50 L1276.50,667.71 L1277.00,655.79 L1277.50,641.92 L1278.00,627.50 L1278.50,611.95 L1279.00,595.28 L1279.30,585.00 L1279.50,578.05 L1280.00,560.50 L1280.50,541.22 L1280.60,537.00 L1281.00,516.71 L1281.50,488.10 L1282.00,460.00 L1282.50,434.79 L1283.00,409.95 L1283.25,397.50 L1283.50,384.54 L1284.00,358.46 L1284.30,345.00 L1284.50,340.02 L1285.00,328.51 L1285.50,318.89 L1285.75,315.00 L1286.00,313.56 L1286.50,311.06 L1287.00,308.91 L1287.50,306.95 L1288.00,305.00 L1288.50,303.47 L1289.00,302.13 L1289.50,300.85 L1290.00,299.38 L1290.50,297.50 L1291.00,293.83 L1291.50,288.85 L1292.00,284.05 L1292.50,280.00 L1293.00,277.85 L1293.50,275.86 L1294.00,274.29 L1294.25,273.75 L1294.50,274.93 L1295.00,278.17 L1295.50,282.39 L1296.00,287.33 L1296.25,290.00 L1296.50,296.75 L1297.00,313.79 L1297.50,331.75 L1297.60,335.00 L1298.00,346.43 L1298.50,360.02 L1299.00,374.05 L1299.20,380.00 L1299.50,391.20 L1300.00,410.00 L1300.50,423.77 L1301.00,435.89 L1301.50,447.56 L1302.00,460.00 L1302.50,474.22 L1303.00,488.97 L1303.50,503.33 L1303.75,510.00 L1304.00,516.20 L1304.50,528.41 L1305.00,539.95 L1305.50,550.36 L1305.75,555.00 L1306.00,559.06 L1306.50,566.97 L1307.00,574.21 L1307.50,580.36 L1308.00,585.00 L1308.50,588.00 L1309.00,590.74 L1309.50,593.04 L1310.00,594.70 L1310.50,595.50 L1311.00,594.67 L1311.50,593.02 L1312.00,590.71 L1312.50,587.92 L1313.00,584.83 L1313.50,581.61 L1313.75,580.00 L1314.00,578.02 L1314.50,573.22 L1315.00,567.63 L1315.50,561.64 L1316.00,555.65 L1316.50,550.11 L1316.75,547.50 L1317.00,545.26 L1317.50,540.85 L1318.00,536.52 L1318.50,532.27 L1319.00,528.11 L1319.50,524.01 L1320.00,520.00 L1320.50,516.54 L1321.00,513.18 L1321.50,509.89 L1322.00,506.62 L1322.50,503.34 L1323.00,500.00 L1323.50,496.35 L1324.00,492.50 L1324.50,488.73 L1325.00,485.30 L1325.50,482.50 L1326.00,481.56 L1326.50,480.76 L1327.00,480.06 L1327.50,479.39 L1328.00,478.73 L1328.50,477.96 L1328.75,477.50 L1329.00,476.96 L1329.50,475.89 L1330.00,474.69 L1330.50,473.18 L1331.00,471.21 L1331.25,470.00 L1331.50,467.20 L1332.00,457.82 L1332.50,447.50 L1333.00,438.06 L1333.50,428.48 L1334.00,419.03 L1334.50,410.00 L1335.00,402.21 L1335.50,394.56 L1336.00,387.81 L1336.25,385.00 L1336.50,383.75 L1337.00,381.36 L1337.50,379.25 L1338.00,377.50 L1338.50,376.25 L1339.00,377.81 L1339.50,379.91 L1340.00,382.44 L1340.50,385.31 L1341.00,388.40 L1341.25,390.00 L1341.50,393.27 L1342.00,401.01 L1342.50,409.67 L1343.00,418.38 L1343.25,422.50 L1343.50,426.40 L1344.00,434.25 L1344.50,442.02 L1345.00,449.54 L1345.50,456.65 L1345.75,460.00 L1346.00,462.94 L1346.50,468.17 L1347.00,473.28 L1347.50,478.73 L1348.00,485.00 L1348.50,497.48 L1349.00,511.89 L1349.50,527.00 L1349.60,530.00 L1350.00,543.97 L1350.50,562.21 L1351.00,580.00 L1351.50,597.39 L1352.00,613.34 L1352.30,620.00 L1352.50,622.69 L1353.00,628.79 L1353.50,633.34 L1354.00,635.50 L1354.50,633.35 L1355.00,628.87 L1355.50,622.45 L1356.00,614.46 L1356.25,610.00 L1356.50,602.06 L1357.00,577.98 L1357.30,562.00 L1357.50,550.77 L1358.00,519.81 L1358.30,500.00 L1358.50,485.31 L1359.00,445.96 L1359.50,410.00 L1360.00,389.82 L1360.50,370.00 L1361.00,339.54 L1361.50,305.69 L1361.75,290.00 L1362.00,276.78 L1362.50,250.99 L1363.00,226.54 L1363.25,215.00 L1363.50,205.60 L1364.00,187.30 L1364.50,172.50 L1365.00,167.28 L1365.50,162.62 L1366.00,158.69 L1366.50,155.64 L1366.75,154.50 L1367.00,155.50 L1367.50,158.09 L1368.00,161.34 L1368.50,165.09 L1369.00,169.14 L1369.50,173.34 L1370.00,177.50 L1370.50,183.43 L1371.00,189.89 L1371.50,196.65 L1372.00,203.43 L1372.50,210.00 L1373.00,215.86 L1373.50,221.45 L1374.00,227.10 L1374.50,233.17 L1375.00,240.00 L1375.50,253.02 L1376.00,267.95 L1376.50,283.08 L1376.75,290.00 L1377.00,296.03 L1377.50,307.32 L1378.00,318.13 L1378.50,329.26 L1378.75,335.00 L1379.00,341.24 L1379.50,353.86 L1380.00,366.88 L1380.30,375.00 L1380.50,381.41 L1381.00,398.23 L1381.50,415.00 L1382.00,430.56 L1382.50,445.65 L1383.00,460.00 L1383.50,473.56 L1384.00,486.80 L1384.50,499.14 L1385.00,510.00 L1385.50,518.72 L1386.00,526.67 L1386.50,534.01 L1387.00,540.89 L1387.50,547.50 L1388.00,553.68 L1388.50,559.68 L1389.00,565.34 L1389.50,570.50 L1390.00,575.00 L1390.50,578.71 L1391.00,582.22 L1391.50,585.38 L1392.00,588.03 L1392.50,590.00 L1393.00,591.23 L1393.50,592.31 L1394.00,593.12 L1394.50,593.50 L1395.00,592.61 L1395.50,590.81 L1396.00,588.59 L1396.50,586.57 L1397.00,585.00 L1397.50,584.28 L1398.00,583.58 L1398.50,582.92 L1399.00,582.32 L1399.50,581.79 L1400.00,581.34 L1400.50,581.00 L1401.00,581.38 L1401.50,581.94 L1402.00,582.60 L1402.50,583.20 L1403.00,583.50 L1403.50,582.19 L1404.00,579.51 L1404.50,576.07 L1405.00,572.50 L1405.50,568.10 L1406.00,562.86 L1406.50,557.46 L1407.00,552.50 L1407.50,548.23 L1408.00,543.90 L1408.50,539.85 L1409.00,536.40 L1409.25,535.00 L1409.50,534.54 L1410.00,533.68 L1410.50,532.90 L1411.00,532.22 L1411.50,531.67 L1412.00,531.25 L1412.50,531.98 L1413.00,532.93 L1413.50,534.09 L1414.00,535.42 L1414.50,536.90 L1415.00,538.50 L1415.50,543.36 L1416.00,549.35 L1416.50,556.07 L1417.00,563.15 L1417.20,566.00 L1417.50,571.79 L1418.00,582.18 L1418.50,593.17 L1419.00,604.40 L1419.25,610.00 L1419.50,616.15 L1420.00,629.21 L1420.50,642.52 L1421.00,654.72 L1421.25,660.00 L1421.50,664.53 L1422.00,673.30 L1422.50,681.17 L1423.00,687.55 L1423.25,690.00 L1423.50,691.76 L1424.00,695.14 L1424.50,698.28 L1425.00,701.10 L1425.50,703.51 L1426.00,705.44 L1426.50,706.80 L1427.00,707.50 L1427.50,707.01 L1428.00,706.07 L1428.50,704.73 L1429.00,703.03 L1429.50,701.03 L1430.00,698.77 L1430.50,696.30 L1430.75,695.00 L1431.00,693.06 L1431.50,687.86 L1432.00,681.20 L1432.50,673.45 L1433.00,665.00 L1433.50,653.72 L1434.00,640.07 L1434.50,625.14 L1435.00,610.00 L1435.50,594.28 L1436.00,577.80 L1436.50,560.62 L1436.80,550.00 L1437.00,542.39 L1437.50,521.96 L1438.00,501.34 L1438.50,481.63 L1438.75,472.50 L1439.00,465.67 L1439.50,452.68 L1440.00,440.36 L1440.50,428.42 L1440.75,422.50 L1441.00,417.20 L1441.50,406.77 L1442.00,396.63 L1442.50,386.82 L1442.70,383.00 L1443.00,378.07 L1443.50,369.93 L1444.00,361.98 L1444.50,354.28 L1445.00,346.93 L1445.50,340.00 L1446.00,334.73 L1446.50,329.39 L1447.00,324.31 L1447.50,319.84 L1448.00,316.31 L1448.25,315.00 L1448.50,315.69 L1449.00,317.41 L1449.50,319.58 L1450.00,322.13 L1450.50,325.05 L1451.00,328.28 L1451.25,330.00 L1451.50,334.93 L1452.00,347.41 L1452.50,361.59 L1452.80,370.00 L1453.00,376.21 L1453.50,392.42 L1454.00,409.04 L1454.50,425.00 L1455.00,439.40 L1455.50,453.27 L1456.00,466.75 L1456.50,480.00 L1457.00,492.86 L1457.50,505.44 L1458.00,517.75 L1458.30,525.00 L1458.50,529.78 L1459.00,541.92 L1459.50,553.89 L1460.00,565.11 L1460.50,575.00 L1461.00,583.25 L1461.50,590.94 L1462.00,597.66 L1462.50,603.00 L1463.00,606.87 L1463.50,610.52 L1464.00,613.63 L1464.50,615.90 L1465.00,617.00 L1465.50,615.77 L1466.00,613.30 L1466.50,609.87 L1467.00,605.73 L1467.50,601.14 L1468.00,596.37 L1468.25,594.00 L1468.50,591.12 L1469.00,584.27 L1469.50,576.39 L1470.00,568.03 L1470.50,559.73 L1470.80,555.00 L1471.00,551.93 L1471.50,544.16 L1472.00,536.32 L1472.50,528.53 L1473.00,520.91 L1473.50,513.55 L1473.75,510.00 L1474.00,507.07 L1474.50,501.30 L1475.00,495.69 L1475.50,490.26 L1476.00,485.02 L1476.50,480.00 L1477.00,476.07 L1477.50,472.28 L1478.00,468.63 L1478.50,465.09 L1479.00,461.67 L1479.25,460.00 L1479.50,458.64 L1480.00,456.06 L1480.50,453.58 L1481.00,451.16 L1481.50,448.69 L1482.00,446.00 L1482.50,443.01 L1483.00,439.93 L1483.50,436.70 L1484.00,433.23 L1484.50,429.45 L1484.80,427.00 L1485.00,425.07 L1485.50,419.56 L1486.00,413.41 L1486.50,407.08 L1487.00,401.00 L1487.50,395.16 L1488.00,389.24 L1488.50,383.46 L1489.00,378.03 L1489.20,376.00 L1489.50,373.70 L1490.00,369.78 L1490.50,366.00 L1491.00,362.63 L1491.50,359.93 L1491.80,358.75 L1492.00,359.27 L1492.50,360.97 L1493.00,363.12 L1493.50,365.61 L1494.00,368.33 L1494.50,371.16 L1495.00,374.00 L1495.50,378.33 L1496.00,383.12 L1496.50,388.18 L1497.00,393.28 L1497.50,398.29 L1497.80,401.00 L1498.00,402.60 L1498.50,406.33 L1499.00,409.85 L1499.50,413.41 L1500.00,417.09 L1500.50,421.00 L1501.00,425.99 L1501.50,431.16 L1502.00,436.62 L1502.50,442.50 L1502.70,445.00 L1503.00,450.40 L1503.50,460.11 L1504.00,470.90 L1504.30,478.00 L1504.50,485.55 L1505.00,506.90 L1505.50,530.00 L1506.00,560.02 L1506.50,590.79 L1506.75,602.50 L1507.00,610.71 L1507.50,625.22 L1508.00,636.20 L1508.25,640.00 L1508.50,642.40 L1509.00,646.81 L1509.50,650.53 L1510.00,653.36 L1510.50,655.10 L1510.75,655.50 L1511.00,654.07 L1511.50,647.77 L1512.00,637.70 L1512.50,624.84 L1513.00,610.19 L1513.25,602.50 L1513.50,591.47 L1514.00,561.73 L1514.50,530.00 L1515.00,499.37 L1515.50,469.06 L1515.75,455.00 L1516.00,444.33 L1516.50,424.38 L1517.00,405.00 L1517.50,384.80 L1518.00,365.64 L1518.30,357.00 L1518.50,355.58 L1519.00,352.56 L1519.50,350.09 L1520.00,347.94 L1520.50,345.86 L1521.00,343.72 L1521.50,341.00 L1522.00,337.19 L1522.50,332.82 L1523.00,327.99 L1523.50,322.75 L1523.75,320.00 L1524.00,316.76 L1524.50,309.13 L1525.00,300.95 L1525.50,293.03 L1526.00,285.74 L1526.25,282.50 L1526.50,280.42 L1527.00,276.24 L1527.50,272.24 L1528.00,268.65 L1528.50,265.72 L1528.90,264.00 L1529.00,264.42 L1529.50,267.23 L1530.00,270.99 L1530.50,275.40 L1531.00,280.12 L1531.25,282.50 L1531.50,286.46 L1532.00,295.36 L1532.50,305.14 L1533.00,315.27 L1533.50,325.24 L1533.75,330.00 L1534.00,334.50 L1534.50,343.38 L1535.00,352.12 L1535.50,360.78 L1536.00,369.39 L1536.50,378.00 L1537.00,386.36 L1537.50,394.58 L1538.00,403.01 L1538.50,412.00 L1539.00,424.02 L1539.50,436.83 L1540.00,450.00 L1540.50,465.17 L1541.00,481.06 L1541.50,495.00 L1542.00,505.70 L1542.50,515.40 L1543.00,524.15 L1543.50,532.00 L1544.00,538.64 L1544.50,544.80 L1545.00,550.53 L1545.50,555.82 L1546.00,560.70 L1546.25,563.00 L1546.50,565.08 L1547.00,569.17 L1547.50,573.14 L1548.00,576.91 L1548.50,580.39 L1549.00,583.54 L1549.50,586.26 L1550.00,588.50 L1550.50,590.11 L1551.00,591.68 L1551.50,593.18 L1552.00,594.60 L1552.50,595.90 L1553.00,597.07 L1553.50,598.08 L1554.00,598.90 L1554.50,599.52 L1555.00,599.91 L1555.20,600.00 L1555.50,599.73 L1556.00,598.85 L1556.50,597.50 L1557.00,595.74 L1557.50,593.64 L1558.00,591.27 L1558.50,588.70 L1559.00,586.00 L1559.50,581.97 L1560.00,576.74 L1560.50,570.64 L1561.00,563.95 L1561.50,557.00 L1562.00,548.22 L1562.50,538.39 L1563.00,529.12 L1563.25,525.00 L1563.50,522.26 L1564.00,517.09 L1564.50,512.35 L1565.00,508.00 L1565.50,504.93 L1566.00,501.87 L1566.50,498.95 L1567.00,496.32 L1567.50,494.13 L1568.00,492.50 L1568.50,494.67 L1569.00,497.51 L1569.50,500.93 L1570.00,504.82 L1570.50,509.09 L1571.00,513.64 L1571.25,516.00 L1571.50,521.04 L1572.00,533.12 L1572.50,546.62 L1573.00,560.04 L1573.20,565.00 L1573.50,571.82 L1574.00,582.96 L1574.50,593.73 L1575.00,604.05 L1575.30,610.00 L1575.50,613.87 L1576.00,623.99 L1576.50,633.82 L1577.00,642.21 L1577.50,648.00 L1578.00,650.87 L1578.50,653.22 L1579.00,655.02 L1579.50,656.25 L1580.00,656.82 L1580.50,657.22 L1581.00,657.53 L1581.50,657.87 L1582.00,658.26 L1582.50,658.75 L1583.00,660.36 L1583.50,662.43 L1584.00,664.87 L1584.50,667.36 L1585.00,669.38 L1585.50,670.52 L1585.60,670.60 L1586.00,670.07 L1586.50,668.68 L1587.00,666.52 L1587.50,663.61 L1588.00,660.00 L1588.50,647.26 L1589.00,627.14 L1589.25,617.00 L1589.50,606.62 L1590.00,584.16 L1590.50,559.99 L1590.60,555.00 L1591.00,533.20 L1591.50,504.30 L1591.75,490.00 L1592.00,475.98 L1592.50,447.98 L1593.00,420.00 L1593.50,390.31 L1594.00,361.74 L1594.25,350.00 L1594.50,344.54 L1595.00,334.72 L1595.50,326.15 L1596.00,318.53 L1596.25,315.00 L1596.50,312.91 L1597.00,309.00 L1597.50,305.43 L1598.00,302.12 L1598.50,299.00 L1598.75,297.50 L1599.00,296.42 L1599.50,294.22 L1600.00,292.05 L1600.50,290.01 L1601.00,288.18 L1601.50,286.65 L1602.00,285.50 L1602.50,287.71 L1603.00,290.62 L1603.50,294.14 L1604.00,298.18 L1604.50,302.67 L1605.00,307.50 L1605.50,320.98 L1606.00,337.61 L1606.50,355.07 L1606.80,365.00 L1607.00,371.23 L1607.50,386.64 L1608.00,401.93 L1608.50,417.28 L1608.75,425.00 L1609.00,432.84 L1609.50,448.66 L1610.00,464.48 L1610.50,480.00 L1611.00,494.99 L1611.50,509.75 L1612.00,524.32 L1612.30,533.00 L1612.50,538.85 L1613.00,553.91 L1613.50,568.24 L1613.90,578.00 L1614.00,579.98 L1614.50,589.66 L1615.00,598.63 L1615.50,606.44 L1616.00,612.65 L1616.25,615.00 L1616.50,616.62 L1617.00,619.74 L1617.50,622.67 L1618.00,625.38 L1618.50,627.84 L1619.00,630.02 L1619.50,631.88 L1620.00,633.40 L1620.50,634.55 L1621.00,635.29 L1621.25,635.50 L1621.50,635.23 L1622.00,634.18 L1622.50,632.54 L1623.00,630.38 L1623.50,627.80 L1624.00,624.88 L1624.50,621.71 L1625.00,618.39 L1625.50,615.00 L1626.00,610.58 L1626.50,605.27 L1627.00,599.16 L1627.50,592.37 L1628.00,585.00 L1628.50,575.73 L1629.00,564.94 L1629.50,552.93 L1630.00,540.00 L1630.50,523.52 L1631.00,505.15 L1631.50,487.77 L1631.75,480.00 L1632.00,474.74 L1632.50,464.90 L1633.00,455.72 L1633.50,446.88 L1633.75,442.50 L1634.00,438.47 L1634.50,430.40 L1635.00,424.00 L1635.50,422.25 L1636.00,420.73 L1636.50,419.45 L1637.00,418.45 L1637.30,418.00 L1637.50,418.10 L1638.00,418.49 L1638.50,418.99 L1639.00,419.57 L1639.50,420.06 L1640.00,420.30 L1640.50,419.38 L1641.00,417.47 L1641.50,414.87 L1642.00,411.87 L1642.30,410.00 L1642.50,408.35 L1643.00,402.91 L1643.50,396.49 L1644.00,390.29 L1644.25,387.50 L1644.50,385.21 L1645.00,380.76 L1645.50,376.57 L1645.70,375.00 L1646.00,373.14 L1646.50,369.96 L1647.00,366.90 L1647.50,364.18 L1648.00,362.03 L1648.25,361.25 L1648.50,362.03 L1649.00,364.05 L1649.50,366.59 L1650.00,369.54 L1650.50,372.80 L1651.00,376.24 L1651.25,378.00 L1651.50,381.28 L1652.00,388.66 L1652.50,396.93 L1653.00,405.80 L1653.50,415.00 L1654.00,427.82 L1654.50,441.65 L1655.00,455.00 L1655.50,466.09 L1656.00,476.45 L1656.50,487.02 L1656.75,492.50 L1657.00,498.54 L1657.50,510.81 L1658.00,523.48 L1658.25,530.00 L1658.50,537.59 L1659.00,553.56 L1659.50,570.00 L1660.00,585.00 L1660.50,598.46 L1661.00,610.96 L1661.50,620.00 L1662.00,625.05 L1662.50,629.25 L1663.00,631.93 L1663.25,632.50 L1663.50,631.85 L1664.00,628.82 L1664.50,623.94 L1665.00,617.74 L1665.20,615.00 L1665.50,607.92 L1666.00,590.45 L1666.50,570.00 L1667.00,544.52 L1667.50,516.14 L1668.00,490.00 L1668.50,471.43 L1669.00,454.10 L1669.50,437.25 L1670.00,420.19 L1670.20,413.00 L1670.50,401.45 L1671.00,381.34 L1671.50,361.18 L1672.00,341.43 L1672.30,330.00 L1672.50,323.30 L1673.00,306.43 L1673.50,289.72 L1674.00,273.63 L1674.50,258.58 L1675.00,245.00 L1675.50,236.79 L1676.00,228.97 L1676.50,221.74 L1677.00,215.35 L1677.50,210.00 L1678.00,208.08 L1678.50,206.27 L1679.00,204.62 L1679.50,203.16 L1680.00,201.91 L1680.50,200.90 L1680.75,200.50 L1681.00,201.02 L1681.50,202.30 L1682.00,203.85 L1682.50,205.67 L1683.00,207.71 L1683.50,209.97 L1684.00,212.41 L1684.50,215.00 L1685.00,222.44 L1685.50,231.53 L1686.00,241.66 L1686.50,252.23 L1686.75,257.50 L1687.00,264.31 L1687.50,279.61 L1688.00,295.90 L1688.50,309.86 L1688.75,315.00 L1689.00,318.38 L1689.50,323.89 L1690.00,328.29 L1690.50,332.37 L1691.00,336.95 L1691.50,342.09 L1691.75,345.00 L1692.00,349.95 L1692.50,361.17 L1693.00,373.22 L1693.50,385.00 L1694.00,395.95 L1694.50,406.74 L1695.00,417.50 L1695.50,428.49 L1696.00,439.55 L1696.50,450.10 L1696.75,455.00 L1697.00,459.51 L1697.50,468.21 L1698.00,476.41 L1698.50,483.98 L1698.75,487.50 L1699.00,490.66 L1699.50,496.68 L1700.00,502.31 L1700.50,507.60 L1701.00,512.60 L1701.25,515.00 L1701.50,517.30 L1702.00,521.95 L1702.50,526.37 L1703.00,530.18 L1703.50,533.00 L1704.00,534.75 L1704.50,536.30 L1705.00,537.45 L1705.50,538.00 L1706.00,537.12 L1706.50,535.31 L1707.00,532.94 L1707.50,530.38 L1708.00,528.00 L1708.50,525.43 L1709.00,522.60 L1709.50,519.83 L1710.00,517.44 L1710.50,515.75 L1711.00,517.57 L1711.50,520.08 L1712.00,523.10 L1712.50,526.46 L1713.00,530.00 L1713.50,537.40 L1714.00,546.24 L1714.50,555.57 L1715.00,562.50 L1715.50,566.58 L1716.00,570.37 L1716.50,573.57 L1717.00,575.87 L1717.50,577.00 L1718.00,575.69 L1718.50,573.06 L1719.00,569.39 L1719.50,564.96 L1720.00,560.07 L1720.50,555.00 L1721.00,547.41 L1721.50,537.67 L1722.00,528.22 L1722.50,520.00 L1723.00,515.02 L1723.50,510.14 L1724.00,505.68 L1724.50,501.95 L1725.00,499.25 L1725.50,502.19 L1726.00,506.25 L1726.50,511.11 L1727.00,516.46 L1727.50,522.00 L1728.00,531.53 L1728.50,542.37 L1729.00,553.78 L1729.50,565.00 L1730.00,576.16 L1730.50,587.38 L1731.00,598.67 L1731.50,610.00 L1732.00,621.67 L1732.50,633.45 L1733.00,645.00 L1733.50,657.13 L1734.00,669.40 L1734.50,679.28 L1734.70,682.00 L1735.00,684.62 L1735.50,688.68 L1736.00,692.20 L1736.50,695.03 L1737.00,697.02 L1737.50,698.00 L1738.00,696.86 L1738.50,694.59 L1739.00,691.35 L1739.50,687.31 L1740.00,682.63 L1740.50,677.50 L1741.00,668.58 L1741.50,656.10 L1742.00,641.20 L1742.50,625.00 L1743.00,604.85 L1743.50,580.88 L1743.80,565.00 L1744.00,552.32 L1744.50,515.40 L1745.00,480.00 L1745.50,453.86 L1746.00,429.05 L1746.25,415.00 L1746.50,396.64 L1747.00,355.43 L1747.50,320.00 L1748.00,305.27 L1748.50,292.41 L1749.00,281.82 L1749.25,277.50 L1749.50,276.06 L1750.00,273.45 L1750.50,271.25 L1751.00,269.47 L1751.25,268.75 L1751.50,268.59 L1752.00,268.34 L1752.50,268.15 L1753.00,267.98 L1753.50,267.70 L1753.75,267.50 L1754.00,266.33 L1754.50,261.44 L1755.00,255.18 L1755.50,250.00 L1756.00,246.70 L1756.50,243.47 L1757.00,240.70 L1757.50,238.75 L1758.00,241.08 L1758.50,244.25 L1759.00,248.13 L1759.50,252.59 L1760.00,257.50 L1760.50,272.57 L1761.00,291.42 L1761.50,310.95 L1761.75,320.00 L1762.00,328.03 L1762.50,343.27 L1763.00,358.42 L1763.50,373.94 L1763.75,382.00 L1764.00,391.40 L1764.50,411.23 L1765.00,430.00 L1765.50,445.06 L1766.00,458.80 L1766.50,472.72 L1766.75,480.00 L1767.00,488.24 L1767.50,505.73 L1768.00,522.64 L1768.25,530.00 L1768.50,536.31 L1769.00,548.28 L1769.50,558.89 L1770.00,567.50 L1770.50,574.05 L1771.00,580.40 L1771.50,586.21 L1772.00,591.12 L1772.50,594.78 L1773.00,596.82 L1773.10,597.00 L1773.50,596.34 L1774.00,594.67 L1774.50,592.22 L1775.00,589.16 L1775.50,585.67 L1776.00,581.92 L1776.25,580.00 L1776.50,577.44 L1777.00,570.91 L1777.50,563.09 L1778.00,554.68 L1778.50,546.38 L1778.75,542.50 L1779.00,538.73 L1779.50,531.12 L1780.00,523.49 L1780.50,515.94 L1781.00,508.58 L1781.25,505.00 L1781.50,501.84 L1782.00,495.57 L1782.50,489.42 L1783.00,483.45 L1783.50,477.74 L1783.75,475.00 L1784.00,472.82 L1784.50,468.56 L1785.00,464.47 L1785.50,460.54 L1786.00,456.80 L1786.25,455.00 L1786.50,453.61 L1787.00,450.91 L1787.50,448.32 L1788.00,445.82 L1788.50,443.42 L1789.00,441.11 L1789.25,440.00 L1789.50,439.16 L1790.00,437.62 L1790.50,436.20 L1791.00,434.89 L1791.50,433.51 L1792.00,431.92 L1792.50,430.00 L1793.00,427.16 L1793.50,423.67 L1794.00,419.70 L1794.50,415.43 L1795.00,411.00 L1795.50,405.94 L1796.00,400.34 L1796.50,394.45 L1797.00,388.50 L1797.30,385.00 L1797.50,382.62 L1798.00,376.46 L1798.50,370.41 L1799.00,365.00 L1799.50,361.54 L1800.00,358.19 L1800.50,355.20 L1801.00,352.85 L1801.25,352.00 L1801.50,352.73 L1802.00,354.55 L1802.50,356.78 L1803.00,359.38 L1803.50,362.26 L1804.00,365.37 L1804.50,368.64 L1805.00,372.00 L1805.50,378.69 L1806.00,386.47 L1806.50,394.81 L1807.00,403.17 L1807.50,411.00 L1808.00,417.76 L1808.50,424.30 L1809.00,430.61 L1809.50,436.67 L1810.00,442.50 L1810.50,447.47 L1811.00,451.99 L1811.50,456.42 L1812.00,461.09 L1812.50,466.33 L1813.00,472.50 L1813.50,488.44 L1814.00,507.43 L1814.20,515.00 L1814.50,527.76 L1815.00,550.64 L1815.50,571.52 L1815.60,575.00 L1816.00,586.81 L1816.50,599.83 L1817.00,610.00 L1817.50,617.38 L1818.00,622.68 L1818.20,623.50 L1818.50,621.98 L1819.00,616.49 L1819.40,612.00 L1819.50,611.11 L1820.00,606.69 L1820.50,602.36 L1820.60,601.50" fill="none" stroke="#000000" stroke-width="5" stroke-linejoin="round" stroke-linecap="butt"/>
<rect x="121.75" y="19.4" width="1778.5" height="832.6" fill="none" stroke="#a8a8a8" stroke-width="1.7"/>
<g stroke="#999999" stroke-width="2.8"><line x1="201.50" y1="18.5" x2="201.50" y2="852.9" /><line x1="363.40" y1="18.5" x2="363.40" y2="852.9" /><line x1="525.30" y1="18.5" x2="525.30" y2="852.9" /><line x1="687.20" y1="18.5" x2="687.20" y2="852.9" /><line x1="849.10" y1="18.5" x2="849.10" y2="852.9" /><line x1="1011.00" y1="18.5" x2="1011.00" y2="852.9" /><line x1="1172.90" y1="18.5" x2="1172.90" y2="852.9" /><line x1="1334.80" y1="18.5" x2="1334.80" y2="852.9" /><line x1="1496.70" y1="18.5" x2="1496.70" y2="852.9" /><line x1="1658.60" y1="18.5" x2="1658.60" y2="852.9" /><line x1="1820.50" y1="18.5" x2="1820.50" y2="852.9" /></g>
<g stroke="#ababab" stroke-width="1.5"><line x1="201.50" y1="852" x2="201.50" y2="862.1" /><line x1="363.40" y1="852" x2="363.40" y2="862.1" /><line x1="525.30" y1="852" x2="525.30" y2="862.1" /><line x1="687.20" y1="852" x2="687.20" y2="862.1" /><line x1="849.10" y1="852" x2="849.10" y2="862.1" /><line x1="1011.00" y1="852" x2="1011.00" y2="862.1" /><line x1="1172.90" y1="852" x2="1172.90" y2="862.1" /><line x1="1334.80" y1="852" x2="1334.80" y2="862.1" /><line x1="1496.70" y1="852" x2="1496.70" y2="862.1" /><line x1="1658.60" y1="852" x2="1658.60" y2="862.1" /><line x1="1820.50" y1="852" x2="1820.50" y2="862.1" /><line x1="111.3" y1="64.80" x2="121.7" y2="64.80" /><line x1="111.3" y1="258.34" x2="121.7" y2="258.34" /><line x1="111.3" y1="451.88" x2="121.7" y2="451.88" /><line x1="111.3" y1="645.42" x2="121.7" y2="645.42" /><line x1="111.3" y1="838.96" x2="121.7" y2="838.96" /></g>
<g class="tick"><text transform="translate(201.50,891.9) scale(1.033,1.08)" text-anchor="middle">0</text><text transform="translate(363.40,891.9) scale(1.033,1.08)" text-anchor="middle">1</text><text transform="translate(525.30,891.9) scale(1.033,1.08)" text-anchor="middle">2</text><text transform="translate(687.20,891.9) scale(1.033,1.08)" text-anchor="middle">3</text><text transform="translate(849.10,891.9) scale(1.033,1.08)" text-anchor="middle">4</text><text transform="translate(1011.00,891.9) scale(1.033,1.08)" text-anchor="middle">5</text><text transform="translate(1172.90,891.9) scale(1.033,1.08)" text-anchor="middle">6</text><text transform="translate(1334.80,891.9) scale(1.033,1.08)" text-anchor="middle">7</text><text transform="translate(1496.70,891.9) scale(1.033,1.08)" text-anchor="middle">8</text><text transform="translate(1658.60,891.9) scale(1.033,1.08)" text-anchor="middle">9</text><text transform="translate(1820.50,891.9) scale(1.033,1.08)" text-anchor="middle">10</text><text transform="translate(103.9,76.10) scale(1.033,1.08)" text-anchor="end">2.5</text><text transform="translate(103.9,269.64) scale(1.033,1.08)" text-anchor="end">2.0</text><text transform="translate(103.9,463.18) scale(1.033,1.08)" text-anchor="end">1.5</text><text transform="translate(103.9,656.72) scale(1.033,1.08)" text-anchor="end">1.0</text><text transform="translate(103.9,850.26) scale(1.033,1.08)" text-anchor="end">0.5</text></g>
<text class="title" transform="translate(1011.3,933.7) scale(1.04,1.04)" text-anchor="middle">Time (s)</text>
<text class="title" transform="translate(45,435.9) rotate(-90) scale(1.022,1.04)" text-anchor="middle">Acceleration (g)</text>
</svg>
</body>
</html>
